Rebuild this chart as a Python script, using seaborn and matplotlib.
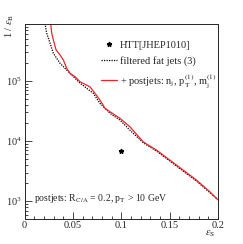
import matplotlib
matplotlib.use('Agg')
import matplotlib.pyplot as plt
import matplotlib.ticker as mticker
import seaborn as sns
import pandas as pd
from matplotlib.lines import Line2D

# Данные
eps_s_filt = [0.0205, 0.0212, 0.0229, 0.0264, 0.0298, 0.0367, 0.0436, 0.0522, 0.0574,
              0.0711, 0.0780, 0.0884, 0.0987, 0.1090, 0.1228, 0.1366, 0.1504, 0.1641,
              0.1780, 0.1917, 0.2000]
inv_eb_filt = [1.0e6, 8.9e5, 6.24e5, 4.25e5, 2.89e5, 1.97e5, 1.52e5, 1.11e5, 9.2e4,
               6.24e4, 4.25e4, 2.9e4, 2.24e4, 1.52e4, 9.4e3, 6.8e3, 4.64e3, 3.16e3,
               2.15e3, 1.39e3, 1.06e3]

eps_s_post = [0.0262, 0.0271, 0.0281, 0.0298, 0.0326, 0.0367, 0.0401, 0.0436, 0.0470,
              0.0522, 0.0574, 0.0677, 0.0729, 0.0780, 0.0832, 0.0884, 0.0987, 0.1090,
              0.1228, 0.1366, 0.1504, 0.1641, 0.1780, 0.1917, 0.2000]
inv_eb_post = [1.0e6, 8.67e5, 6.24e5, 4.82e5, 3.29e5, 2.71e5, 2.24e5, 1.63e5, 1.34e5,
               1.18e5, 9.7e4, 8.0e4, 6.24e4, 4.82e4, 3.51e4, 3.08e4, 2.39e4, 1.73e4,
               9.7e3, 7.08e3, 4.82e3, 3.29e3, 2.24e3, 1.43e3, 1.06e3]

htt_eps_s = [0.1]
htt_inv_eb = [6.8e3]

sns.set_theme(style="ticks")
plt.rcParams['font.family'] = ['Liberation Serif', 'DejaVu Serif']
plt.rcParams['mathtext.fontset'] = 'stix'

fig = plt.figure(figsize=(2.43, 2.44), dpi=100)
ax = fig.add_axes([0.101, 0.104, 0.796, 0.798])

df_f = pd.DataFrame({'x': eps_s_filt, 'y': inv_eb_filt})
df_p = pd.DataFrame({'x': eps_s_post, 'y': inv_eb_post})

sns.lineplot(data=df_f, x='x', y='y', ax=ax, color='black', lw=0.9,
             linestyle=(0, (1, 1)), sort=False)
sns.lineplot(data=df_p, x='x', y='y', ax=ax, color='#e8262a', lw=0.9, sort=False)
ax.plot(htt_eps_s, htt_inv_eb, marker='*', color='black', ms=3.5, ls='none')

ax.set_yscale('log')
ax.set_xlim(0, 0.2)
ax.set_ylim(515, 8.9e5)

ax.xaxis.set_major_locator(mticker.MultipleLocator(0.05))
ax.xaxis.set_minor_locator(mticker.MultipleLocator(0.01))
ax.xaxis.set_major_formatter(mticker.FuncFormatter(lambda v, p: '0' if v == 0 else f'{v:g}'))
ax.yaxis.set_minor_formatter(mticker.NullFormatter())
ax.tick_params(which='both', direction='in', labelsize=7.5, width=0.6, pad=2)
ax.tick_params(which='major', length=5)
ax.tick_params(which='minor', length=2.5)
for s in ax.spines.values():
    s.set_linewidth(0.7)

ax.set_xlabel('')
ax.set_ylabel('')
fig.text(0.845, 0.035, r'$\varepsilon_{\rm S}$', fontsize=7.5)
fig.text(0.015, 0.86, r'1 / $\varepsilon_{\rm B}$', fontsize=7.5, rotation=90)

handles = [Line2D([], [], marker='*', color='black', ls='none', ms=3.5),
           Line2D([], [], color='black', lw=0.9, linestyle=(0, (1, 1))),
           Line2D([], [], color='#e8262a', lw=0.9)]
labels = ['HTT[JHEP1010]', 'filtered fat jets (3)',
          r'+ postjets: n$_{\rm j}$, p$_{\rm T}^{(1)}$, m$_{\rm j}^{(1)}$']
ax.legend(handles, labels, loc='upper left', bbox_to_anchor=(0.36, 0.952),
          frameon=False, fontsize=7.5, handlelength=1.5, handletextpad=0.3,
          labelspacing=0.6, borderpad=0.2)

ax.text(0.05, 0.09, r'postjets: R$_{\rm C/A}$ = 0.2, p$_{\rm T}$ > 10 GeV',
        transform=ax.transAxes, fontsize=7)

plt.savefig('out.png', dpi=100)
